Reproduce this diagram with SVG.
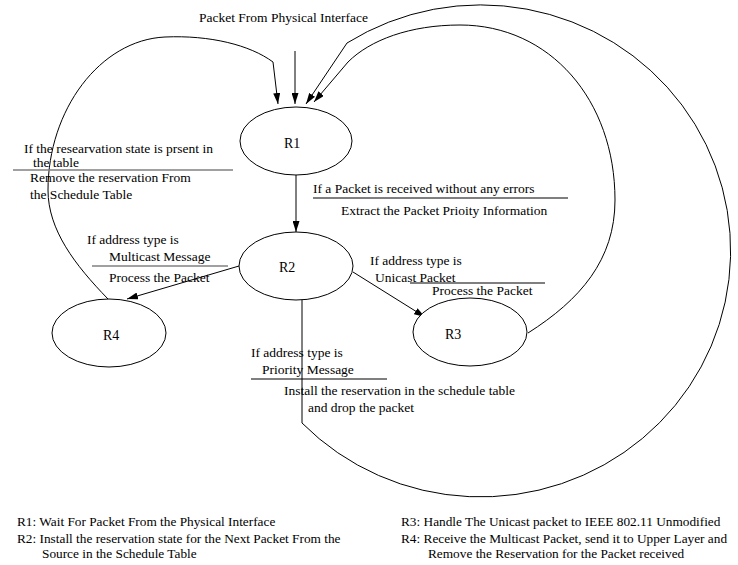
<svg xmlns="http://www.w3.org/2000/svg" width="738" height="565" viewBox="0 0 738 565">
<defs>
<marker id="ah" markerWidth="11" markerHeight="7" refX="11" refY="3.5" orient="auto" markerUnits="userSpaceOnUse"><path d="M0,0 L11,3.5 L0,7 z" fill="#000"/></marker>
<style>
text{font-family:'Liberation Serif','DejaVu Serif',serif;font-size:13.5px;fill:#000}
.st{font-size:14px}
.lg{font-size:13.3px}
.node{fill:#fff;stroke:#000;stroke-width:1}
.c{fill:none;stroke:#000;stroke-width:1}
.a{marker-end:url(#ah)}
.sep{stroke:#000;stroke-width:1.2}
.sepg{stroke:#808080;stroke-width:1.5}
</style>
</defs>
<rect width="738" height="565" fill="#fff"/>
<g id="connectors">
<path class="c a" d="M295,51 L295,104"/>
<path class="c a" d="M108,299 C75,265 48,230 48,190 C48,110 100,40 165,37 C210,35 250,45 273,62 L278,104"/>
<path class="c a" d="M302,300 L302,423 A250,246 0 1 0 347,43 L306,104"/>
<path class="c a" d="M528,333 C580,300 615,260 615,200 C615,100 550,25 460,25 C410,25 370,40 348,62 L314,102"/>
<path class="c a" d="M296,175 L296,232"/>
<path class="c a" d="M239,266 L127,299"/>
<path class="c a" d="M353,272 L425,317"/>
</g>
<g id="R1"><ellipse class="node" cx="296" cy="141" rx="56" ry="34"/><text class="st" x="284" y="148">R1</text></g>
<g id="R2"><ellipse class="node" cx="296" cy="266" rx="57" ry="34"/><text class="st" x="279" y="272">R2</text></g>
<g id="R3"><ellipse class="node" cx="470" cy="332" rx="57" ry="34"/><text class="st" x="445" y="339">R3</text></g>
<g id="R4"><ellipse class="node" cx="109" cy="333" rx="57" ry="34"/><text class="st" x="103" y="340">R4</text></g>
<g id="labels">
<text x="199" y="22">Packet From Physical Interface</text>
<text x="24" y="153">If the researvation state is prsent in</text>
<text x="33" y="167">the table</text>
<line class="sepg" x1="13" y1="170" x2="233" y2="170"/>
<text x="30" y="182">Remove the reservation From</text>
<text x="30" y="199">the Schedule Table</text>
<text x="313" y="193">If a Packet is received without any errors</text>
<line class="sep" x1="313" y1="198" x2="568" y2="198"/>
<text x="341" y="215">Extract the Packet Prioity Information</text>
<text x="87" y="244">If address type is</text>
<text x="109" y="261">Multicast Message</text>
<line class="sepg" x1="92" y1="266" x2="228" y2="266"/>
<text x="109" y="282">Process the Packet</text>
<text x="370" y="265">If address type is</text>
<text x="375" y="282">Unicast Packet</text>
<line class="sep" x1="410" y1="283" x2="545" y2="283"/>
<text x="432" y="295">Process the Packet</text>
<text x="251" y="357">If address type is</text>
<text x="262" y="374">Priority Message</text>
<line class="sep" x1="251" y1="379" x2="387" y2="379"/>
<text x="284" y="395">Install the reservation in the schedule table</text>
<text x="308" y="412">and drop the packet</text>
</g>
<g id="legend">
<text class="lg" x="17" y="526">R1: Wait For Packet From the Physical Interface</text>
<text class="lg" x="17" y="543">R2: Install the reservation state for the Next Packet From the</text>
<text class="lg" x="42" y="558">Source in the Schedule Table</text>
<text class="lg" x="401" y="526">R3: Handle The Unicast packet to IEEE 802.11 Unmodified</text>
<text class="lg" x="401" y="543">R4: Receive the Multicast Packet, send it to Upper Layer and</text>
<text class="lg" x="428" y="558">Remove the Reservation for the Packet received</text>
</g>
</svg>
